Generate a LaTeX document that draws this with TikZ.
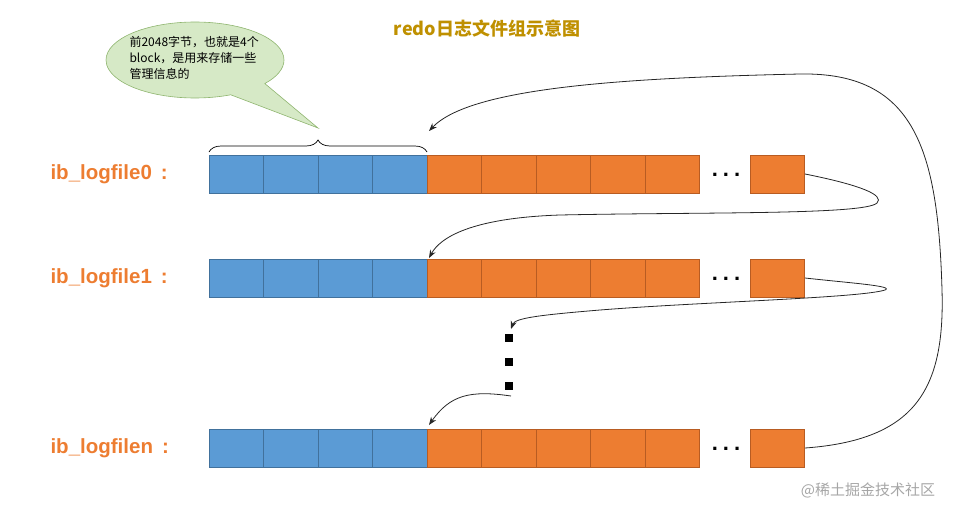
\documentclass[tikz,border=0pt]{standalone}
\usepackage{fontspec}
\setmainfont{Liberation Sans}
\newfontfamily\cjk{Noto Sans CJK SC}
\usetikzlibrary{shapes.callouts,decorations.pathreplacing,arrows.meta}
\definecolor{cblue}{HTML}{5B9BD5}
\definecolor{cblueb}{HTML}{41719C}
\definecolor{corg}{HTML}{ED7D31}
\definecolor{corgb}{HTML}{B85C22}
\definecolor{cgreen}{HTML}{D6E9C6}
\definecolor{cgreenb}{HTML}{8FB56F}
\definecolor{ctitle}{HTML}{BF9000}
\tikzset{
  bcell/.style={draw=cblueb,fill=cblue,minimum width=54.5pt,minimum height=38pt,inner sep=0pt,line width=0.6pt},
  ocell/.style={draw=corgb,fill=corg,minimum width=54.5pt,minimum height=38pt,inner sep=0pt,line width=0.6pt},
  lab/.style={text=corg,font=\fontsize{20.5}{22}\selectfont\bfseries,anchor=west},
  link/.style={-{Stealth[length=8pt,width=6pt]},line width=0.8pt,black!85},
  hdots/.style={font=\fontsize{22}{22}\selectfont\bfseries},
  vdot/.style={fill=black,minimum size=8pt,inner sep=0pt}
}
\begin{document}
\begin{tikzpicture}[x=1pt,y=-1pt]
\useasboundingbox (0,0) rectangle (965,517);
% title
\node[text=ctitle,font=\cjk\fontsize{18}{20}\selectfont\bfseries] (title) at (487,29) {redo日志文件组示意图};
% rows
\foreach \r/\y/\n in {0/174/ib\_logfile0,1/278/ib\_logfile1,n/448/ib\_logfilen}{
  \node[lab] (lab\r) at (47,\y) {\n\hspace{9pt}:};
  \foreach \i in {1,...,4}{
    \node[bcell] (r\r b\i) at ({209+54.5*(\i-0.5)},\y) {};
  }
  \foreach \i in {1,...,5}{
    \node[ocell] (r\r o\i) at ({427+54.5*(\i-0.5)},\y) {};
  }
  \node[hdots] (r\r dots) at (726,\y+1) {.\hspace{5pt}.\hspace{5pt}.};
  \node[ocell] (r\r last) at (777.5,\y) {};
}
% vertical dots
\node[vdot] (v1) at (509,338) {};
\node[vdot] (v2) at (509,362) {};
\node[vdot] (v3) at (509,386) {};
% brace
\coordinate (brL) at (209,152);
\coordinate (brR) at (427,152);
\draw[decorate,decoration={brace,amplitude=12pt},line width=0.7pt] (brL) -- (brR);
\coordinate (brtip) at (318,128);
% callout
\node[ellipse callout,draw=cgreenb,fill=cgreen,minimum width=178pt,minimum height=76pt,
  callout absolute pointer={(brtip)},callout pointer arc=28,inner sep=0pt,line width=0.6pt] (callout) at (195,60) {};
\node[font=\cjk\fontsize{12}{16}\selectfont,align=left,anchor=north west] (ctext) at (126,33)
  {前2048字节，也就是4个\\block，是用来存储一些\\管理信息的};
% connectors
\coordinate (t0) at (429,131);
\coordinate (t1) at (429,258);
\coordinate (tv) at (511,329);
\coordinate (sv) at (511,396);
\coordinate (tn) at (429,425);
\draw[link] (rnlast.east) .. controls (915,440) and (945,390) .. (942,290)
  .. controls (938,150) and (915,72) .. (800,74)
  .. controls (620,78) and (470,88) .. (t0);
\draw[link] (r0last.east) .. controls (860,185) and (885,195) .. (877,203)
  .. controls (865,215) and (700,212) .. (560,215)
  .. controls (470,218) and (440,238) .. (t1);
\draw[link] (r1last.east) .. controls (850,283) and (895,286) .. (885,290)
  .. controls (860,298) and (700,302) .. (600,310)
  .. controls (540,315) and (515,318) .. (tv);
\draw[link] (sv) .. controls (470,390) and (450,395) .. (tn);
% watermark
\node[text=black!35,font=\cjk\fontsize{15}{17}\selectfont] (wm) at (868,490) {@稀土掘金技术社区};
\end{tikzpicture}
\end{document}
